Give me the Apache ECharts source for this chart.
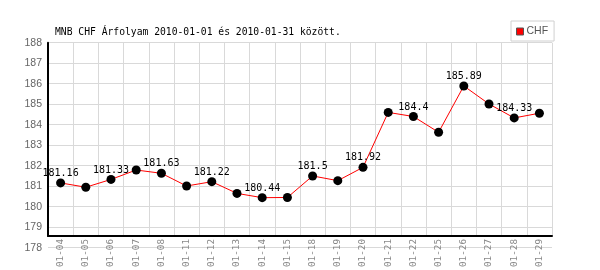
<!DOCTYPE html>
<html><head><meta charset="utf-8">
<script src="https://cdn.jsdelivr.net/npm/echarts@6/dist/echarts.min.js"></script>
<style>html,body{margin:0;padding:0;background:#fff}#c{width:600px;height:270px}</style>
</head><body><div id="c"></div>
<script>
const titleText = 'MNB CHF Árfolyam 2010-01-01 és 2010-01-31 között.';
const seriesName = 'CHF';
const categories = ['01-04','01-05','01-06','01-07','01-08','01-11','01-12','01-13','01-14','01-15','01-18','01-19','01-20','01-21','01-22','01-25','01-26','01-27','01-28','01-29'];
const values = [181.16,180.95,181.33,181.79,181.63,181.01,181.22,180.65,180.44,180.45,181.5,181.27,181.92,184.6,184.4,183.63,185.89,185.01,184.33,184.56];
const yMin = 178, yMax = 188, yStep = 1;

const mono = '"DejaVu Sans Mono", "Liberation Mono", monospace';
const chart = echarts.init(document.getElementById('c'), null, {renderer:'canvas'});
chart.setOption({
  animation:false,
  backgroundColor:'#fff',
  title:{text:titleText, left:50, top:22, textStyle:{fontFamily:mono, fontSize:9.7, fontWeight:'normal', color:'#000'}},
  legend:{
    left:511, top:21, padding:[5,6,4,5], itemGap:0, itemWidth:7, itemHeight:7, icon:'rect',
    borderColor:'#d0d0d0', borderWidth:1, backgroundColor:'#fff',
    textStyle:{fontFamily:'"Liberation Sans", Arial, sans-serif', fontSize:10.5, color:'#555', padding:[0,0,0,-2]},
    data:[{name:seriesName, itemStyle:{color:'#ff0000', borderColor:'#555', borderWidth:1}}]
  },
  grid:[
    {left:48, right:48, top:42.7, height:205},
    {left:48, right:48, top:42.7, height:195.3}
  ],
  xAxis:[
    {type:'category', gridIndex:0, data:categories, boundaryGap:true,
     axisLine:{show:false}, axisTick:{show:false}, axisLabel:{show:false}, splitLine:{show:false}},
    {type:'category', gridIndex:1, data:categories, boundaryGap:true,
     axisLine:{show:true, lineStyle:{color:'#000', width:2}}, axisTick:{show:false},
     axisLabel:{rotate:90, interval:0, margin:3, fontFamily:mono, fontSize:9.3, color:'#888'},
     splitLine:{show:true, interval:0, lineStyle:{color:'#d9d9d9', width:1}}}
  ],
  yAxis:[
    {type:'value', gridIndex:0, min:yMin, max:yMax, interval:yStep,
     axisLine:{show:false}, axisTick:{show:false},
     axisLabel:{margin:6, fontFamily:'"Liberation Sans", Arial, sans-serif', fontSize:10.5, color:'#666'},
     splitLine:{show:true, lineStyle:{color:'#d9d9d9', width:1}}},
    {type:'value', gridIndex:1, min:0, max:1,
     axisLine:{show:true, lineStyle:{color:'#000', width:2}}, axisTick:{show:false},
     axisLabel:{show:false}, splitLine:{show:false}}
  ],
  series:[{
    name:seriesName, type:'line', xAxisIndex:0, yAxisIndex:0,
    data: values.map((v,i)=>({value:v, label:{show:i%2===0}})),
    symbol:'circle', symbolSize:9, showAllSymbol:true,
    lineStyle:{color:'#ff0000', width:1},
    itemStyle:{color:'#000'},
    label:{position:'top', distance:0, fontFamily:mono, fontSize:10, color:'#000'},
    z:5
  }]
});
</script></body></html>
